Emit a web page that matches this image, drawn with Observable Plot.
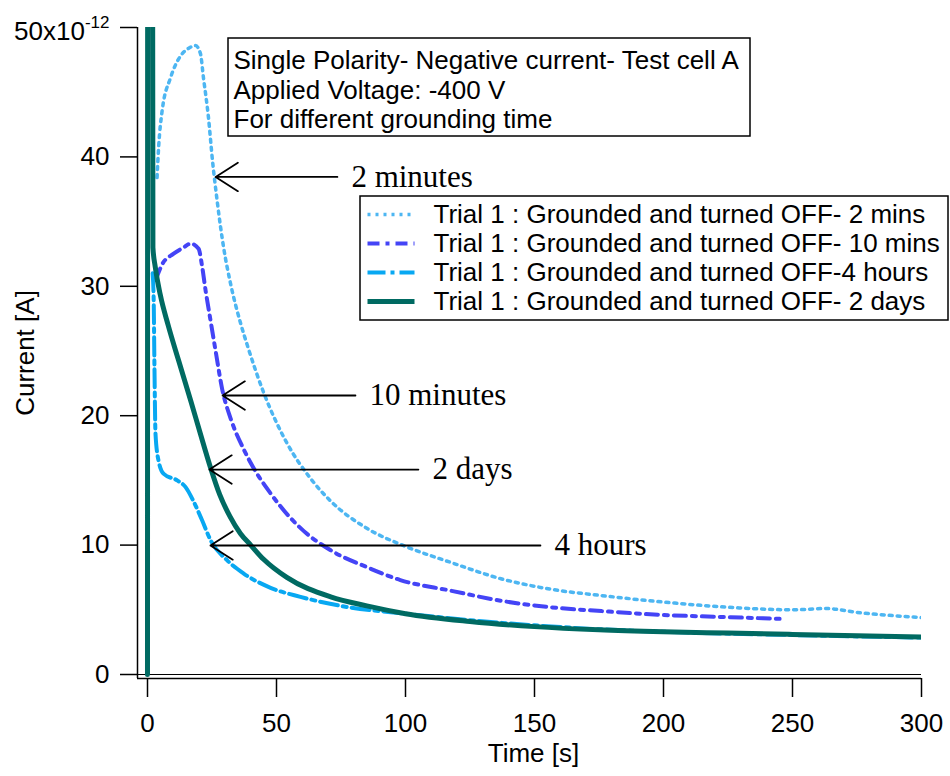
<!DOCTYPE html>
<html><head><meta charset="utf-8">
<script src="https://cdn.jsdelivr.net/npm/d3@7"></script>
<script src="https://cdn.jsdelivr.net/npm/@observablehq/plot@0.6"></script>
<style>body{margin:0;background:#fff}svg{display:block}</style>
</head><body><div id="chart"></div>
<script>
// ---------- data ----------
const xTicks = [0, 50, 100, 150, 200, 250, 300];
const yTicks = [0, 10, 20, 30, 40, 50];
const seriesLabels = [
  "Trial 1 : Grounded and turned OFF- 2 mins",
  "Trial 1 : Grounded and turned OFF- 10 mins",
  "Trial 1 : Grounded and turned OFF-4 hours",
  "Trial 1 : Grounded and turned OFF- 2 days"
];
// time [s], current [pA]
const t2min = [3.7,4.3,5.7,8.9,12.8,16,18.6,20.5,21.7,23.6,25.2,27,29.5,32.2,36,38.6,45,54,63,71,85,100,117,137,156,176,200,225,250,263,275,300];
const i2min = [38.4,40.7,43.6,46.1,47.8,48.4,48.6,48.0,46.1,43.1,39.7,36.6,33.0,30.2,27.2,25.5,21.8,17.9,15.2,13.4,11.3,9.9,8.7,7.4,6.6,6.1,5.6,5.2,5.0,5.1,4.8,4.4];
const t10min = [3.2,5.7,10,14,16.7,19.8,21.2,22.5,24.4,26.4,29,32.2,37.3,41,47.7,55.4,60.5,71,85,98,117,137,156,176,200,214,230,245];
const i10min = [30.5,31.7,32.5,33.0,33.3,32.9,31.5,29.7,27.4,25.0,22.0,19.8,17.4,16.0,14.0,12.1,11.1,9.6,8.3,7.3,6.5,5.7,5.2,4.9,4.6,4.5,4.4,4.3];
const t4h = [2.0,2.4,2.7,3.1,4.3,6.3,11.5,14.7,17.8,21.2,24.4,31,37.3,47.7,59.3,75,100,125,150,175,200,250,300];
const i4h = [31,28.9,23.7,18.6,16.5,15.5,15.0,14.5,13.4,11.9,10.4,8.8,7.8,6.7,6.0,5.3,4.7,4.2,3.8,3.5,3.3,3.05,2.85];
const t2d = [0,0.1,1.9,2.1,3,5,8,12,16.7,20.5,24.4,28,32,36,40,45,54,71,85,100,125,150,175,200,225,250,275,300];
const i2d = [0,70,70,33,31.5,29.3,27.0,24.3,21.2,18.6,16.0,13.9,12.2,10.9,10.0,8.9,7.5,6.0,5.3,4.7,4.1,3.7,3.45,3.3,3.2,3.1,3.0,2.9];

const toRows = (ts, vs) => ts.map((t, k) => ({t, v: vs[k]}));
const series = [
  {label: seriesLabels[0], rows: toRows(t2min, i2min), stroke: "#4db6f2", width: 3.5, dash: "3 5"},
  {label: seriesLabels[1], rows: toRows(t10min, i10min), stroke: "#4444f6", width: 4, dash: "12 6 4 6"},
  {label: seriesLabels[2], rows: toRows(t4h, i4h), stroke: "#08a8f2", width: 4, dash: "18 5 4 5"},
  {label: seriesLabels[3], rows: toRows(t2d, i2d), stroke: "#006a62", width: 5, dash: null}
];

// annotation arrows (data units)
const arrowLabels = ["2 minutes", "10 minutes", "2 days", "4 hours"];
const arrowTip = [26.4, 29.1, 24.0, 24.4];
const arrowTail = [73.6, 80.6, 105.0, 152.3];
const arrowLevel = [38.45, 21.56, 15.84, 9.97];
const boxText = "Single Polarity- Negative current- Test cell A\nApplied Voltage: -400 V\nFor different grounding time";

// ---------- layout ----------
const W = 950, H = 776, mL = 137, mR = 29, mT = 27, mB = 98;
const xDom = [-3.876, 300], yDom = [-0.309, 50];
const px2x = px => xDom[0] + (px - mL) / (W - mL - mR) * (xDom[1] - xDom[0]);
const py2y = py => yDom[0] + (H - mB - py) / (H - mB - mT) * (yDom[1] - yDom[0]);
const sans = "Liberation Sans, Arial, sans-serif";
const serif = "Liberation Serif, Times New Roman, serif";

const arrows = arrowLabels.map((label, k) => ({label, tip: arrowTip[k], tail: arrowTail[k], y: arrowLevel[k], tx: arrowTail[k] + px2x(161) - px2x(147)}));
const legendRows = series.map((s, k) => ({...s, y: py2y(214 + k * 29)}));

const marks = [
  Plot.ruleY([0], {stroke: "black", strokeWidth: 1.2}),
  Plot.ruleX([xDom[0]], {stroke: "black", strokeWidth: 1.5}),
  Plot.ruleY([yDom[0]], {stroke: "black", strokeWidth: 1.5}),
  Plot.axisY(yTicks, {tickSize: 17, tickPadding: 11, fontSize: 26, strokeWidth: 1.5, label: null,
    tickFormat: d => d === 50 ? "50x10" : String(d)}),
  Plot.axisX(xTicks, {tickSize: 19, tickPadding: 16, fontSize: 26, strokeWidth: 1.5, label: null}),
  Plot.text(["Current [A]"], {frameAnchor: "left", dx: -112, rotate: -90, textAnchor: "middle", lineAnchor: "middle", fontSize: 26, fill: "black"}),
  Plot.text(["Time [s]"], {frameAnchor: "bottom", dx: 4, dy: 75, textAnchor: "middle", lineAnchor: "middle", fontSize: 26, fill: "black"}),
  ...series.map(s => Plot.line(s.rows, {x: "t", y: "v", stroke: s.stroke, strokeWidth: s.width,
    strokeDasharray: s.dash, curve: "monotone-x", clip: true})),
  // info box
  Plot.rect([0], {x1: px2x(228), x2: px2x(750), y1: py2y(38), y2: py2y(136), fill: "white", stroke: "black", strokeWidth: 1.5}),
  Plot.text([boxText], {x: px2x(233), y: py2y(48), textAnchor: "start", lineAnchor: "top", lineHeight: 1.135, fontSize: 26, fill: "black"}),
  // legend
  Plot.rect([0], {x1: px2x(360), x2: px2x(948), y1: py2y(196), y2: py2y(320), fill: "white", stroke: "black", strokeWidth: 1.5}),
  ...legendRows.map(r => Plot.link([r], {x1: px2x(367), x2: px2x(414), y1: "y", y2: "y", stroke: r.stroke, strokeWidth: r.width, strokeDasharray: r.dash})),
  Plot.text(legendRows, {x: px2x(433), y: "y", text: "label", textAnchor: "start", fontSize: 26, fill: "black"}),
  // arrows
  Plot.arrow(arrows, {x1: "tail", x2: "tip", y1: "y", y2: "y", stroke: "black", strokeWidth: 1.8, headLength: 22, headAngle: 65}),
  Plot.text(arrows, {x: "tx", y: "y", text: "label", textAnchor: "start", fontFamily: serif, fontSize: 31, fill: "black"})
];

const plot = Plot.plot({
  width: W, height: H, marginLeft: mL, marginRight: mR, marginTop: mT, marginBottom: mB,
  x: {domain: xDom, label: null}, y: {domain: yDom, label: null},
  style: {fontFamily: sans, fontSize: "26px", color: "black", background: "white", overflow: "visible"},
  marks
});

// superscript exponent on the top tick label
d3.select(plot).selectAll('g[aria-label="y-axis tick label"] text').each(function() {
  if (this.textContent === "50x10") {
    const t = d3.select(this);
    t.attr("transform", (this.getAttribute("transform") || "") + " translate(0,4)");
    t.append("tspan").attr("dy", "-12").attr("font-size", "17px").text("-12");
  }
});
document.getElementById("chart").appendChild(plot);
</script>
</body></html>
